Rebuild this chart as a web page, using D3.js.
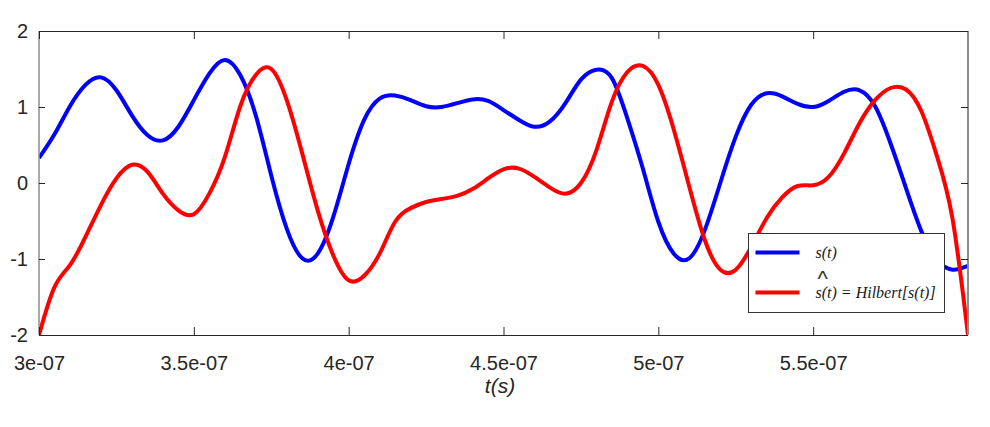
<!DOCTYPE html>
<html>
<head>
<meta charset="utf-8">
<script src="https://cdn.jsdelivr.net/npm/d3@7"></script>
<style>
  body { margin: 0; background: #fff; }
  svg { display: block; }
</style>
</head>
<body>
<div id="chart"></div>
<script>
// time samples, every 5 ns from 300 ns to 600 ns
const times = d3.range(61).map(i => (300 + 5 * i) * 1e-9);

// s(t)
const signal = [
  0.33, 0.64, 1.01, 1.29, 1.39, 1.22, 0.89, 0.63, 0.56, 0.74,
  1.09, 1.44, 1.62, 1.42, 0.89, 0.10, -0.60, -0.99, -0.93, -0.45,
  0.25, 0.83, 1.11, 1.15, 1.09, 1.01, 1.00, 1.05, 1.10, 1.08,
  0.96, 0.83, 0.74, 0.81, 1.05, 1.36, 1.49, 1.38, 0.85, 0.19,
  -0.51, -0.93, -0.99, -0.62, 0.00, 0.61, 1.03, 1.18, 1.14, 1.04,
  1.00, 1.08, 1.20, 1.22, 1.01, 0.52, -0.07, -0.64, -1.01, -1.14,
  -1.09
];

// Hilbert transform of s(t)
const hilbert = [
  -2.00, -1.37, -1.08, -0.71, -0.29, 0.06, 0.24, 0.15, -0.14, -0.36,
  -0.41, -0.14, 0.34, 1.01, 1.42, 1.50, 1.09, 0.39, -0.36, -0.95,
  -1.28, -1.22, -0.93, -0.51, -0.33, -0.25, -0.21, -0.17, -0.08, 0.06,
  0.18, 0.19, 0.08, -0.06, -0.14, 0.00, 0.43, 1.07, 1.46, 1.54,
  1.29, 0.70, -0.05, -0.75, -1.14, -1.14, -0.84, -0.46, -0.19, -0.04,
  -0.03, 0.08, 0.39, 0.79, 1.09, 1.25, 1.23, 0.94, 0.35, -0.47,
  -2.00
];

const xTicks = [3e-7, 3.5e-7, 4e-7, 4.5e-7, 5e-7, 5.5e-7];
const xTickLabels = ["3e-07", "3.5e-07", "4e-07", "4.5e-07", "5e-07", "5.5e-07"];
const yTicks = [-2, -1, 0, 1, 2];
const yTickLabels = ["-2", "-1", "0", "1", "2"];

const width = 990, height = 427;
const margin = { top: 31, right: 22, bottom: 92, left: 39 };
const iw = width - margin.left - margin.right;
const ih = height - margin.top - margin.bottom;

const svg = d3.select("#chart").append("svg")
  .attr("width", width)
  .attr("height", height);

const g = svg.append("g")
  .attr("transform", `translate(${margin.left},${margin.top})`);

const x = d3.scaleLinear().domain([3e-7, 6e-7]).range([0, iw]);
const y = d3.scaleLinear().domain([-2, 2]).range([ih, 0]);

g.append("clipPath").attr("id", "clip")
  .append("rect").attr("width", iw).attr("height", ih);

// frame: dark top/bottom, grey left/right
g.append("line").attr("x1", 0).attr("x2", iw).attr("y1", 0.5).attr("y2", 0.5)
  .attr("stroke", "#262626");
g.append("line").attr("x1", 0).attr("x2", iw).attr("y1", ih + 0.5).attr("y2", ih + 0.5)
  .attr("stroke", "#262626");

const lineFor = vals => d3.line()
  .x((d, i) => x(times[i]))
  .y(d => y(d))
  .curve(d3.curveNatural)(vals);

const curves = g.append("g").attr("clip-path", "url(#clip)");
curves.append("path").attr("d", lineFor(signal))
  .attr("fill", "none").attr("stroke", "#0000ff").attr("stroke-width", 4);
curves.append("path").attr("d", lineFor(hilbert))
  .attr("fill", "none").attr("stroke", "#ff0000").attr("stroke-width", 4);

g.append("line").attr("x1", 0).attr("x2", 0).attr("y1", 0).attr("y2", ih)
  .attr("stroke", "#8c8c8c").attr("stroke-width", 1.5);
g.append("line").attr("x1", iw).attr("x2", iw).attr("y1", 0).attr("y2", ih)
  .attr("stroke", "#8c8c8c").attr("stroke-width", 2);

// axes with inward ticks
const fontAxis = "'Liberation Sans', Arial, sans-serif";

const xAxis = g.append("g").attr("transform", `translate(0,${ih})`)
  .call(d3.axisBottom(x).tickValues(xTicks).tickSizeInner(-8).tickSizeOuter(0)
    .tickPadding(21).tickFormat((d, i) => xTickLabels[i]));
const xTop = g.append("g")
  .call(d3.axisTop(x).tickValues(xTicks).tickSizeInner(-8).tickSizeOuter(0)
    .tickFormat(""));
const yAxis = g.append("g")
  .call(d3.axisLeft(y).tickValues(yTicks).tickSizeInner(-6).tickSizeOuter(0)
    .tickPadding(11).tickFormat((d, i) => yTickLabels[i]));
const yRight = g.append("g").attr("transform", `translate(${iw},0)`)
  .call(d3.axisRight(y).tickValues(yTicks).tickSizeInner(-7).tickSizeOuter(0)
    .tickFormat(""));

[xAxis, xTop, yAxis, yRight].forEach(a => {
  a.select(".domain").remove();
  a.selectAll(".tick line").attr("stroke", "#262626");
  a.selectAll("text").attr("fill", "#262626")
    .style("font-family", fontAxis).style("font-size", "20px");
});
xAxis.selectAll("text").attr("dy", "0.71em");

svg.append("text")
  .attr("x", 500).attr("y", 393)
  .attr("text-anchor", "middle")
  .style("font-family", fontAxis).style("font-size", "21px")
  .style("font-style", "italic").attr("fill", "#262626")
  .text("t(s)");

// legend
const legend = svg.append("g").attr("transform", "translate(748.5,233.5)");
legend.append("rect").attr("width", 196).attr("height", 79)
  .attr("fill", "#fff").attr("stroke", "#333").attr("stroke-width", 1);

const legendItems = [
  { color: "#0000ff", label: "s(t)", y: 19 },
  { color: "#ff0000", label: "s(t) = Hilbert[s(t)]", y: 59 }
];
legendItems.forEach(d => {
  legend.append("line").attr("x1", 7).attr("x2", 51)
    .attr("y1", d.y).attr("y2", d.y)
    .attr("stroke", d.color).attr("stroke-width", 4);
  legend.append("text").attr("x", 67).attr("y", d.y + 5)
    .style("font-family", "'Liberation Serif', 'Times New Roman', serif")
    .style("font-size", "16px").style("font-style", "italic")
    .attr("fill", "#1a1a1a").text(d.label);
});
legend.append("text").attr("x", 69).attr("y", 52)
  .style("font-family", fontAxis).style("font-size", "22px")
  .style("font-weight", 300)
  .attr("fill", "#333").text("^");
</script>
</body>
</html>
